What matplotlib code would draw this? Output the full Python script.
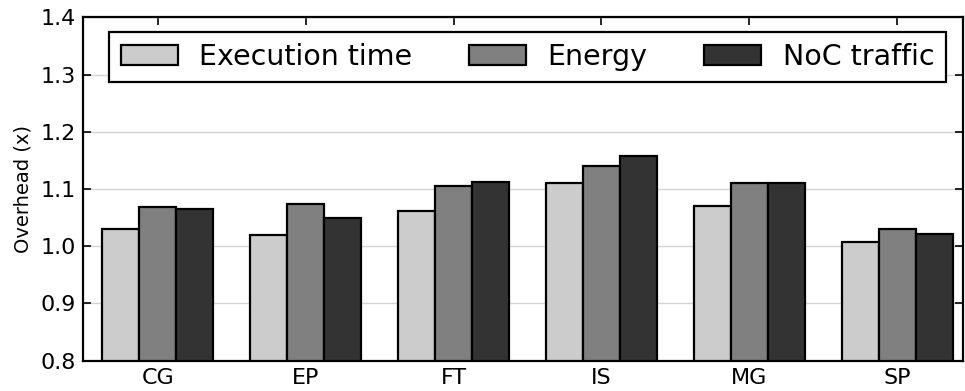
import matplotlib
matplotlib.use("Agg")
import matplotlib.pyplot as plt
import numpy as np

# benchmarks and measured overheads
benchmarks = ["CG", "EP", "FT", "IS", "MG", "SP"]
exec_time = [1.030, 1.020, 1.061, 1.111, 1.071, 1.007]
energy = [1.069, 1.074, 1.105, 1.141, 1.111, 1.031]
noc_traffic = [1.066, 1.050, 1.113, 1.158, 1.111, 1.022]

series = [
    ("Execution time", exec_time, "#cccccc"),
    ("Energy", energy, "#808080"),
    ("NoC traffic", noc_traffic, "#333333"),
]

fig = plt.figure(figsize=(9.65, 3.91), dpi=100)
ax = fig.add_axes([0.086, 0.0775, 0.912, 0.878])

x = np.arange(len(benchmarks))
width = 0.25
for i, (label, vals, color) in enumerate(series):
    ax.bar(x + (i - 1) * width, np.array(vals) - 0.8, width, bottom=0.8,
           color=color, edgecolor="black", linewidth=1.6, label=label, zorder=3)

ax.set_ylim(0.8, 1.4)
ax.set_xlim(-0.506, 5.445)
ax.set_yticks(np.arange(0.8, 1.41, 0.1))
ax.set_yticklabels(["%.1f" % v for v in np.arange(0.8, 1.41, 0.1)])
ax.set_xticks(x)
ax.set_xticklabels(benchmarks)
ax.yaxis.grid(True, color="#d4d4d4", linewidth=1.0, zorder=0)
ax.set_axisbelow(True)

ax.tick_params(axis="both", direction="in", length=6, width=1.2,
               labelsize=16, top=True, right=True, pad=5)
ax.set_ylabel("Overhead (x)", fontsize=14, labelpad=6)
for sp in ax.spines.values():
    sp.set_linewidth(1.6)

leg = ax.legend(loc="upper center", ncol=3, fontsize=20.5, fancybox=False,
                framealpha=1, edgecolor="black", columnspacing=2.0,
                handlelength=2.0, handletextpad=0.75, borderaxespad=0.5,
                bbox_to_anchor=(0.505, 1))
leg.get_frame().set_linewidth(1.6)

fig.savefig("out.png", dpi=100)
